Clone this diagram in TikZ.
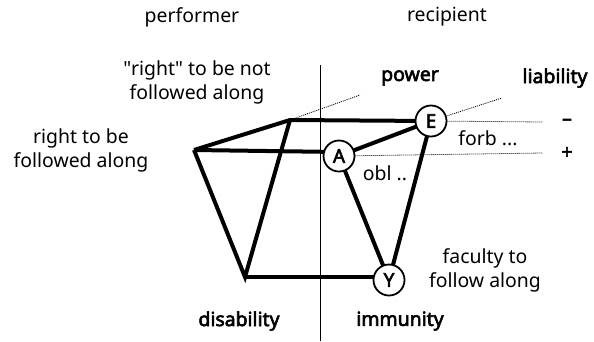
\documentclass[tikz,border=0pt]{standalone}
\usepackage{fontspec}
\setmainfont{Noto Sans}[BoldFont={Noto Sans}, BoldFeatures={FakeBold=3}]
\newfontfamily\plainquote{Noto Sans}
\begin{document}
\begin{tikzpicture}[x=1bp,y=-1bp,
  lbl/.style={font=\fontsize{19.5}{24}\selectfont, align=center, inner sep=0pt},
  blbl/.style={lbl, font=\fontsize{19.5}{24}\selectfont\bfseries},
  circ/.style={circle, draw, line width=1.8bp, fill=white, minimum size=31bp, inner sep=0pt, font=\fontsize{19}{20}\selectfont\bfseries},
  thick edge/.style={line width=4bp, line join=miter},
  dots/.style={line width=0.8bp, dash pattern=on 1bp off 1bp}
]
\useasboundingbox (0,0) rectangle (594,341);
% divider
\coordinate (vtop) at (320,65);
\coordinate (vbot) at (320,341);
\draw[line width=1bp] (vtop) -- (vbot);
% vertices
\coordinate (L) at (194,150);
\coordinate (T) at (290,120);
\coordinate (B) at (245,277);
\coordinate (t1) at (360,95);
\coordinate (e1) at (502,98);
\coordinate (e2) at (543,122);
\coordinate (a2) at (543,153);
% thick edges (under circles)
\draw[thick edge] (L) -- (T) -- (431,121);
\draw[thick edge] (L) -- (339,152);
\draw[thick edge] (L) -- (B) -- (T);
\draw[thick edge] (B) -- (389,277);
\draw[thick edge] (339,156) -- (389,280) -- (431,121) -- (339,156);
% circles
\node[circ] (E) at (431,121) {E};
\node[circ] (A) at (339,156) {A};
\node[circ] (Y) at (389,280) {Y};
% dotted lines
\draw[dots] (T) -- (t1);
\draw[dots] (E) -- (e1);
\draw[dots] (E) -- (e2);
\draw[dots] (A) -- (a2);
% labels
\node[lbl] (perf) at (192,17) {performer};
\node[lbl] (reci) at (447,17) {recipient};
\node[lbl] (rnot) at (197,82) {{\plainquote"}right{\plainquote"} to be not\\followed along};
\node[lbl] (rfol) at (81,150) {right to be\\followed along};
\node[blbl] (pow) at (410,78) {power};
\node[blbl] (lia) at (555,78) {liability};
\node[lbl] (forb) at (488,138) {forb ...};
\node[lbl] (obl) at (385,173) {obl ..};
\node[blbl] (minus) at (567,122) {–};
\node[blbl] (plus) at (567,153) {+};
\node[lbl] (fac) at (485,270) {faculty to\\follow along};
\node[blbl] (dis) at (239,321) {disability};
\node[blbl] (imm) at (400,321) {immunity};
\end{tikzpicture}
\end{document}
